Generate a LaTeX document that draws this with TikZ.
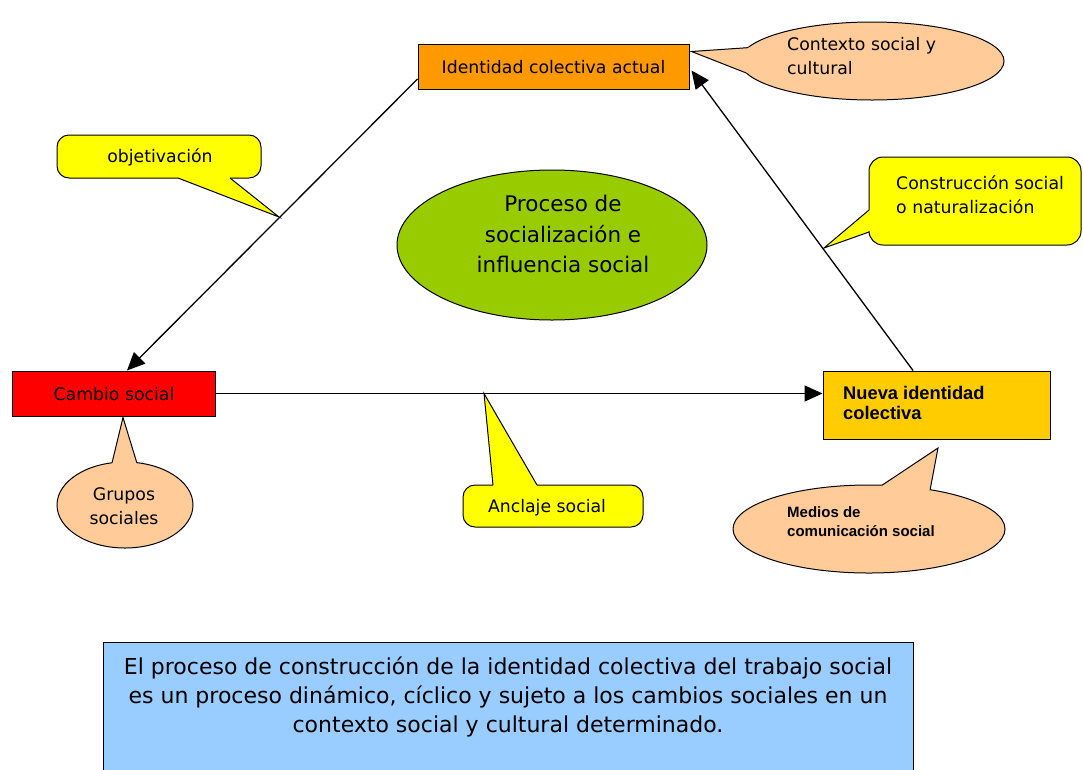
\documentclass[tikz,border=0pt]{standalone}
\usepackage{fontspec}
\setmainfont{DejaVu Sans}
\newfontfamily\arialfont{Liberation Sans}
\usetikzlibrary{shapes.geometric,arrows.meta,calc}
\definecolor{cOrange}{HTML}{FF9900}
\definecolor{cPeach}{HTML}{FFCC99}
\definecolor{cYellow}{HTML}{FFFF00}
\definecolor{cGreen}{HTML}{99CC00}
\definecolor{cRed}{HTML}{FF0000}
\definecolor{cGold}{HTML}{FFCC00}
\definecolor{cBlue}{HTML}{99CCFF}
\tikzset{
  box/.style={draw=black, line width=1pt, inner sep=0pt, rectangle},
  oval/.style={draw=black, line width=1pt, inner sep=0pt, ellipse, fill=cPeach},
  outl/.style={draw=black, line width=1pt},
  conn/.style={draw=black, line width=1.3pt, -{Triangle[length=18pt,width=16pt]}},
  lbl/.style={inner sep=0pt, font=\fontsize{17.3}{24}\selectfont},
}
\begin{document}
\begin{tikzpicture}[x=1pt,y=-1pt]
\useasboundingbox (0,0) rectangle (1083,769);
\begin{scope}
\clip (0,0) rectangle (1083,769);

% boxes
\node[box, fill=cOrange, minimum width=271pt, minimum height=45pt] (ica) at (553.5,66.5) {};
\node[lbl] (icat) at (553.5,67) {Identidad colectiva actual};
\node[box, fill=cRed, minimum width=203pt, minimum height=45pt] (cs) at (113.5,393.5) {};
\node[lbl] (cst) at (114,394) {Cambio social};
\node[box, fill=cGold, minimum width=227pt, minimum height=68pt] (nic) at (936.5,405) {};
\node[inner sep=0pt, anchor=west, align=left, font=\arialfont\bfseries\fontsize{18.3}{20.5}\selectfont] (nict) at (843,403) {Nueva identidad\\colectiva};

% central ellipse
\node[draw=black, line width=1pt, ellipse, fill=cGreen, inner sep=0pt, minimum width=310pt, minimum height=150pt] (pro) at (552,245) {};
\node[inner sep=0pt, align=center, font=\fontsize{21.5}{30.5}\selectfont] (prot) at (563,234) {Proceso de\\socialización e\\influencia social};

% Contexto callout (ellipse)
\node[oval, minimum width=264pt, minimum height=78pt] (ctx) at (872,61) {};
\coordinate (ctxA) at ($(ctx.center)+({132*cos(200)},{39*sin(200)})$);
\coordinate (ctxB) at ($(ctx.center)+({132*cos(162)},{39*sin(162)})$);
\coordinate (ctxAi) at ($(ctx.center)+({112*cos(200)},{33*sin(200)})$);
\coordinate (ctxBi) at ($(ctx.center)+({112*cos(162)},{33*sin(162)})$);
\coordinate (ctxT) at ($(ica.east)+(2,-15)$);
\fill[cPeach] (ctxA) -- (ctxT) -- (ctxB) -- (ctxBi) -- (ctxAi) -- cycle;
\draw[outl, line join=miter] (ctxA) -- (ctxT) -- (ctxB);
\node[lbl, anchor=west, align=left] (ctxt) at (787,56) {Contexto social y\\cultural};

% Grupos sociales callout (ellipse)
\node[oval, minimum width=136pt, minimum height=86pt] (gru) at (125,505) {};
\coordinate (gruA) at ($(gru.center)+({68*cos(259)},{43*sin(259)})$);
\coordinate (gruB) at ($(gru.center)+({68*cos(280)},{43*sin(280)})$);
\coordinate (gruAi) at ($(gru.center)+({55*cos(259)},{35*sin(259)})$);
\coordinate (gruBi) at ($(gru.center)+({55*cos(280)},{35*sin(280)})$);
\coordinate (gruT) at ($(cs.south)+(9.5,1)$);
\fill[cPeach] (gruA) -- (gruT) -- (gruB) -- (gruBi) -- (gruAi) -- cycle;
\draw[outl, line join=miter] (gruA) -- (gruT) -- (gruB);
\node[lbl, align=center] (grut) at (124,506) {Grupos\\sociales};

% Medios callout (ellipse)
\node[oval, minimum width=272pt, minimum height=88pt] (med) at (869,529) {};
\coordinate (medA) at ($(med.center)+({136*cos(275.5)},{44*sin(275.5)})$);
\coordinate (medB) at ($(med.center)+({136*cos(296.7)},{44*sin(296.7)})$);
\coordinate (medAi) at ($(med.center)+({115*cos(275.5)},{37*sin(275.5)})$);
\coordinate (medBi) at ($(med.center)+({115*cos(296.7)},{37*sin(296.7)})$);
\coordinate (medT) at (938,448);
\fill[cPeach] (medA) -- (medT) -- (medB) -- (medBi) -- (medAi) -- cycle;
\draw[outl, line join=miter] (medA) -- (medT) -- (medB);
\node[inner sep=0pt, anchor=west, align=left, font=\arialfont\bfseries\fontsize{15}{19}\selectfont] (medt) at (787,522) {Medios de\\comunicación social};

% connectors
\draw[conn] ($(ica.west)+(0,12.5)$) -- ($(cs.north)+(13.5,0)$);
\draw[conn] (cs.east) -- (cs.east -| nic.west);
\draw[conn] ($(nic.north)+(-23.5,0)$) -- ($(ica.east)+(2,4)$);

% objetivacion callout
\coordinate (objA) at (178,178);
\coordinate (objB) at (230,178);
\coordinate (objT) at (279,217);
\fill[cYellow, rounded corners=12pt] (57,135) rectangle (261,178);
\fill[cYellow] (objA) -- (objT) -- (objB) -- cycle;
\draw[outl, rounded corners=12pt] (objA) -- (57,178) -- (57,135) -- (261,135) -- (261,178) -- (objB);
\draw[outl, line join=miter] (objB) -- (objT) -- (objA);
\node[lbl] (objt) at (160,157) {objetivación};

% Construccion callout
\coordinate (conA) at (869,210);
\coordinate (conB) at (869,232);
\coordinate (conT) at (824,248);
\fill[cYellow, rounded corners=14pt] (869,157) rectangle (1081,245);
\fill[cYellow] (conA) -- (conT) -- (conB) -- cycle;
\draw[outl, rounded corners=14pt] (conA) -- (869,157) -- (1081,157) -- (1081,245) -- (869,245) -- (conB);
\draw[outl, line join=miter] (conB) -- (conT) -- (conA);
\node[lbl, anchor=west, align=left] (cont) at (896,195) {Construcción social\\o naturalización};

% Anclaje callout
\coordinate (ancA) at (493,485);
\coordinate (ancB) at (537,485);
\coordinate (ancT) at (484,393.5);
\fill[cYellow, rounded corners=12pt] (463,485) rectangle (643,527);
\fill[cYellow] (ancA) -- (ancT) -- (ancB) -- cycle;
\draw[outl, rounded corners=12pt] (ancA) -- (463,485) -- (463,527) -- (643,527) -- (643,485) -- (ancB);
\draw[outl, line join=miter] (ancB) -- (ancT) -- (ancA);
\node[lbl] (anct) at (547,508) {Anclaje social};

% bottom text box
\node[box, fill=cBlue, minimum width=810pt, minimum height=140pt] (bot) at (508,712) {};
\node[inner sep=0pt, align=center, font=\fontsize{22}{29}\selectfont] (bott) at (508,697) {El proceso de construcción de la identidad colectiva del trabajo social\\es un proceso dinámico, cíclico y sujeto a los cambios sociales en un\\contexto social y cultural determinado.};
\end{scope}
\end{tikzpicture}
\end{document}
